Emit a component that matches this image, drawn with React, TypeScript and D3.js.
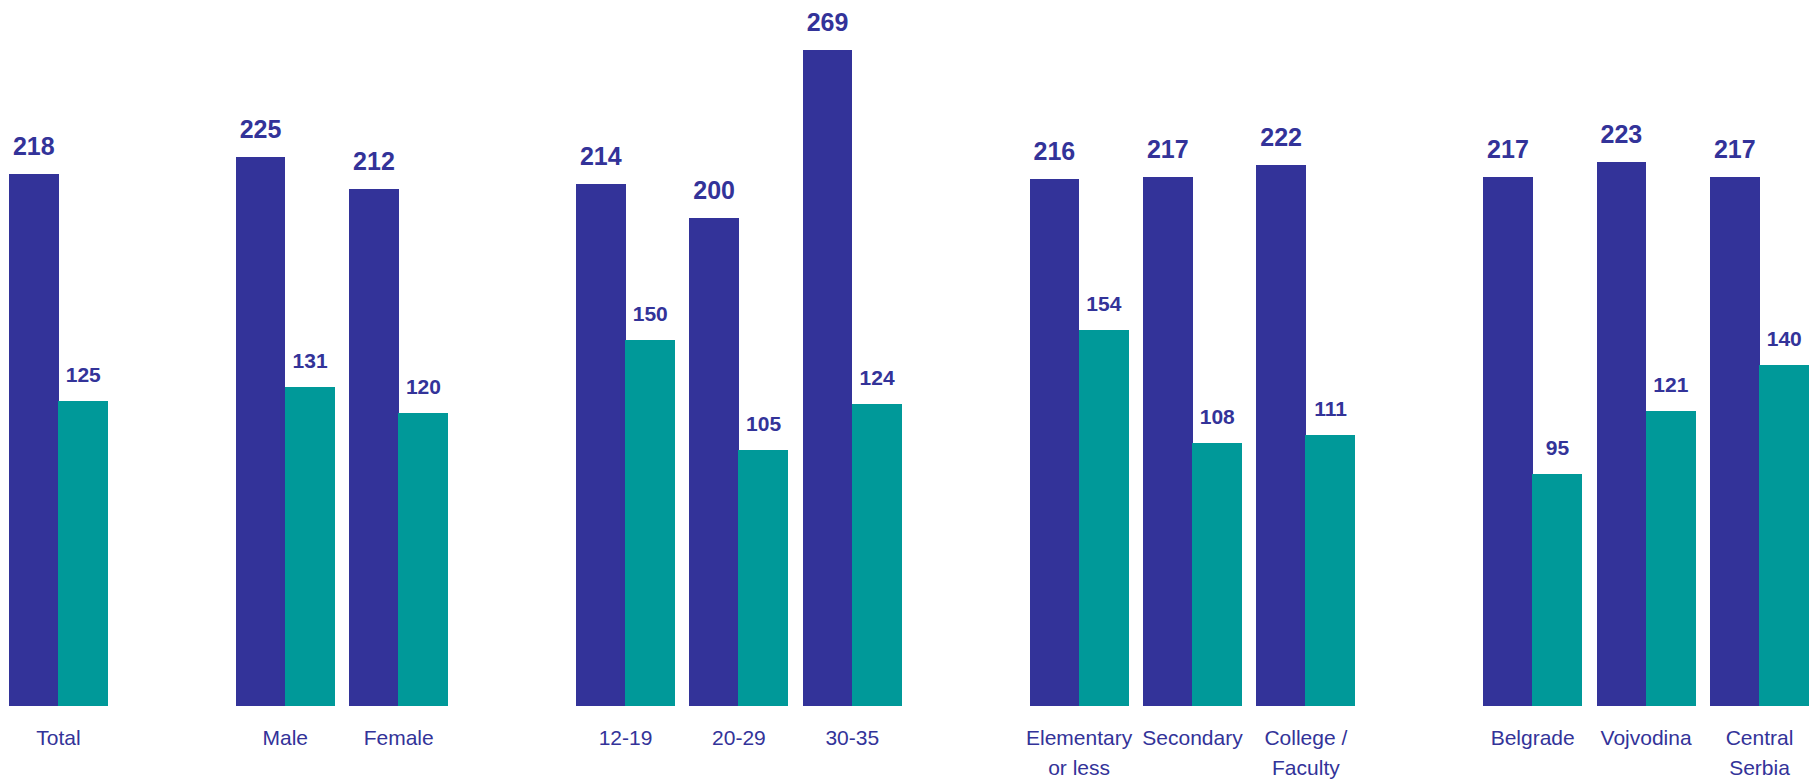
import React from "react";
import * as d3 from "d3";

const categories = [
  "Total",
  "Male",
  "Female",
  "12-19",
  "20-29",
  "30-35",
  "Elementary\nor less",
  "Secondary",
  "College /\nFaculty",
  "Belgrade",
  "Vojvodina",
  "Central\nSerbia",
];
const groupOf = [0, 1, 1, 2, 2, 2, 3, 3, 3, 4, 4, 4];
const seriesA = [218, 225, 212, 214, 200, 269, 216, 217, 222, 217, 223, 217];
const seriesB = [125, 131, 120, 150, 105, 124, 154, 108, 111, 95, 121, 140];
const seriesKeys = ["A", "B"];
const colors = ["#333399", "#009999"];

const W = 1813;
const H = 781;

export default function App() {
  const nSlots = categories.length + groupOf[groupOf.length - 1];
  const x = d3
    .scaleBand<number>()
    .domain(d3.range(nSlots))
    .range([9, 1809])
    .paddingInner(0.127)
    .paddingOuter(0);
  const inner = d3
    .scaleBand<string>()
    .domain(seriesKeys)
    .range([0, x.bandwidth()])
    .padding(0);
  const y = d3.scaleLinear().domain([0, 269]).range([706, 50]);
  const fontFamily = "'Liberation Sans', Arial, Helvetica, sans-serif";

  return (
    <svg
      width={W}
      height={H}
      style={{ position: "absolute", left: 0, top: 0, background: "#fff" }}
      fontFamily={fontFamily}
    >
      {categories.map((cat, i) => {
        const x0 = x(i + groupOf[i]) as number;
        const vals = [seriesA[i], seriesB[i]];
        const lines = cat.split("\n");
        return (
          <g key={cat} transform={`translate(${x0},0)`}>
            {vals.map((v, k) => {
              const bx = inner(seriesKeys[k]) as number;
              const bw = inner.bandwidth();
              return (
                <g key={k}>
                  <rect
                    x={Math.round(bx)}
                    y={y(v)}
                    width={Math.round(bx + bw) - Math.round(bx) + (k === 0 ? 0.5 : 0)}
                    height={y(0) - y(v)}
                    fill={colors[k]}
                    shapeRendering="crispEdges"
                  />
                  <text
                    x={bx + bw / 2}
                    y={y(v) - 19}
                    textAnchor="middle"
                    fontWeight="bold"
                    fontSize={k === 0 ? 25 : 21}
                    fill="#333399"
                  >
                    {v}
                  </text>
                </g>
              );
            })}
            <text
              x={x.bandwidth() / 2}
              y={745}
              textAnchor="middle"
              fontSize={21}
              fill="#333399"
            >
              {lines.map((ln, j) => (
                <tspan key={j} x={x.bandwidth() / 2} dy={j === 0 ? 0 : 30}>
                  {ln}
                </tspan>
              ))}
            </text>
          </g>
        );
      })}
    </svg>
  );
}
